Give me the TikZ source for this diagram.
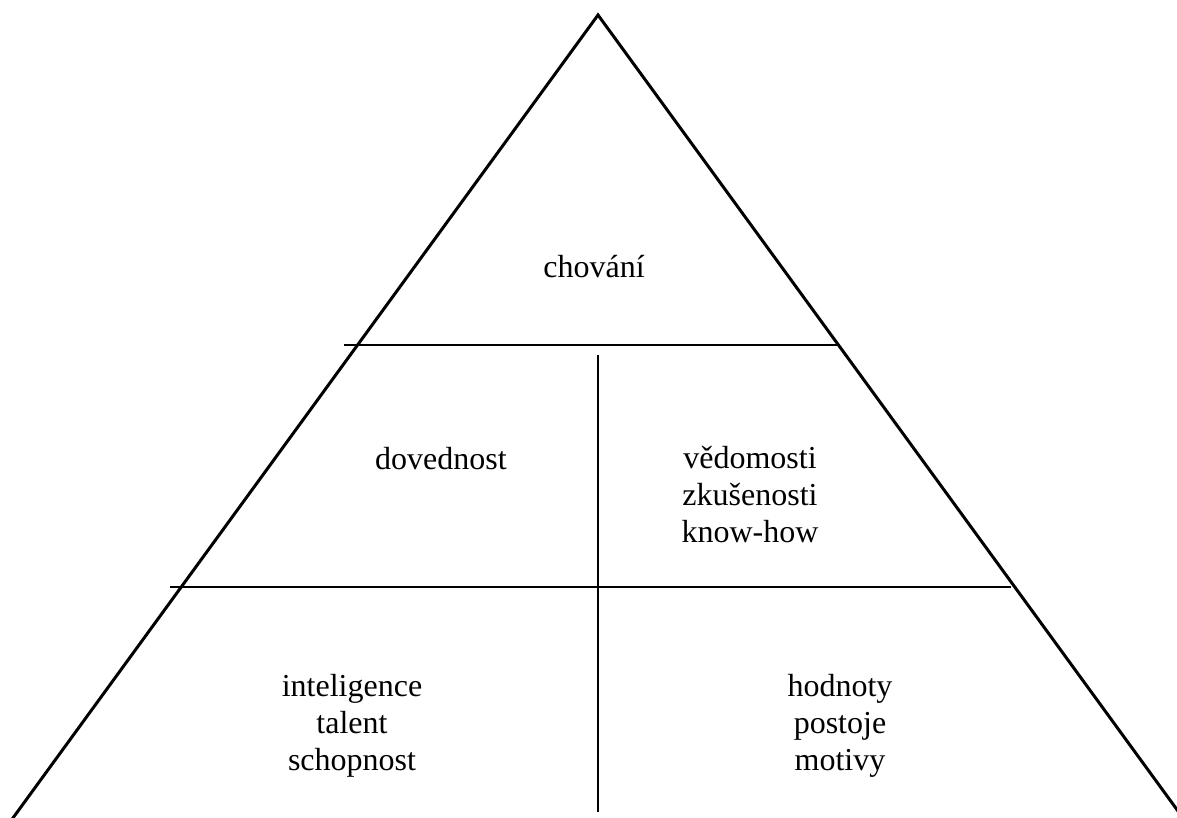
\documentclass[tikz,border=0pt]{standalone}
\usepackage{fontspec}
\setmainfont{Liberation Serif}
\begin{document}
\begin{tikzpicture}[x=1pt,y=-1pt,
  lbl/.style={font=\fontsize{32}{37}\selectfont, inner sep=0pt, anchor=base},
  side/.style={line width=3pt, line cap=butt},
  inner/.style={line width=1.5pt}]
\useasboundingbox (0,0) rectangle (1177,818);
\clip (0,0) rectangle (1177,818);
\coordinate (apex) at (598,15);
\coordinate (bl) at (2,833);
\coordinate (br) at (1194,833);
\draw[side, line join=miter] (bl) -- (apex) -- (br);
\coordinate (h1a) at (344,345);
\coordinate (h1b) at (839,345);
\coordinate (h2a) at (170,587);
\coordinate (h2b) at (1011,587);
\coordinate (v1) at (598,355);
\coordinate (v2) at (598,812);
\draw[inner] (h1a) -- (h1b);
\draw[inner] (h2a) -- (h2b);
\draw[inner] (v1) -- (v2);
\node[lbl] (chovani) at (594,277) {chování};
\node[lbl] (doved) at (441,469) {dovednost};
\node[lbl] (vedom1) at (750,468) {vědomosti};
\node[lbl] (vedom2) at (750,505) {zkušenosti};
\node[lbl] (vedom3) at (750,542) {know-how};
\node[lbl] (intel1) at (352,696) {inteligence};
\node[lbl] (intel2) at (352,733) {talent};
\node[lbl] (intel3) at (352,770) {schopnost};
\node[lbl] (hodn1) at (840,696) {hodnoty};
\node[lbl] (hodn2) at (840,733) {postoje};
\node[lbl] (hodn3) at (840,770) {motivy};
\end{tikzpicture}
\end{document}
